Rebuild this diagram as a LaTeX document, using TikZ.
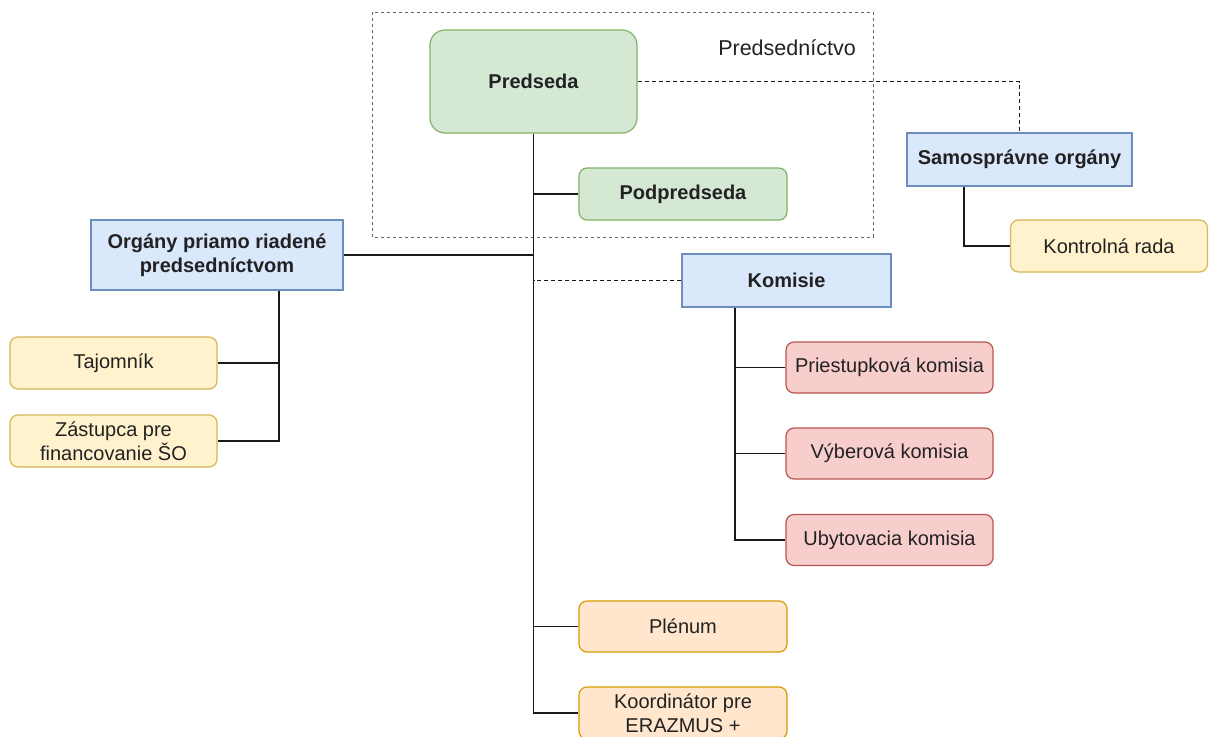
\documentclass[tikz,border=0pt]{standalone}
\usepackage{fontspec}
\setmainfont{Liberation Sans}
\definecolor{gfill}{HTML}{D5E8D4}\definecolor{gline}{HTML}{82B366}
\definecolor{bfill}{HTML}{DAE8FC}\definecolor{bline}{HTML}{6C8EBF}
\definecolor{yfill}{HTML}{FFF2CC}\definecolor{yline}{HTML}{D6B656}
\definecolor{rfill}{HTML}{F8CECC}\definecolor{rline}{HTML}{B85450}
\definecolor{ofill}{HTML}{FFE6CC}\definecolor{oline}{HTML}{D79B00}
\definecolor{txt}{HTML}{222222}
\begin{document}
\begin{tikzpicture}[x=1pt,y=-1pt,
  box/.style={draw, line width=1.2pt, align=center, text=txt, inner sep=2pt,
    font=\fontsize{20}{23.5}\selectfont},
  bbox/.style={box, font=\fontsize{20}{23.5}\selectfont\bfseries},
  green/.style={fill=gfill, draw=gline, rounded corners=8pt},
  blue/.style={fill=bfill, draw=bline},
  yellow/.style={fill=yfill, draw=yline, rounded corners=8pt},
  red/.style={fill=rfill, draw=rline, rounded corners=8pt},
  orange/.style={fill=ofill, draw=oline, rounded corners=8pt},
  conn/.style={draw=black!90, line width=1.5pt},
  dconn/.style={conn, line width=1.3pt, dash pattern=on 4pt off 3pt},
  sz/.style 2 args={minimum width=#1pt, minimum height=#2pt}
]
\useasboundingbox (0,0) rectangle (1209,736);
\fill[white] (0,0) rectangle (1209,736);

% frame
\draw[draw=black!60, line width=1pt, dash pattern=on 3pt off 3pt] (372,12) rectangle (873,237);
\node[text=txt, font=\fontsize{21.5}{24}\selectfont] (frlabel) at (787,48) {Predsedníctvo};

% nodes
\node[bbox, green, rounded corners=15pt, sz={207}{103}] (pred) at (533.5,81.5) {Predseda};
\node[bbox, green, sz={208}{52}] (podp) at (683,194) {Podpredseda};
\node[bbox, blue, sz={225}{53}] (samo) at (1019.5,159.5) {Samosprávne orgány};
\node[box, yellow, sz={197}{52}] (kontr) at (1109,246) {Kontrolná rada};
\node[bbox, blue, sz={252}{70}] (org) at (217,255) {Orgány priamo riadené\\predsedníctvom};
\node[box, yellow, sz={207}{52}] (taj) at (113.5,363) {Tajomník};
\node[box, yellow, sz={207}{52}] (zas) at (113.5,441) {Zástupca pre\\financovanie ŠO};
\node[bbox, blue, sz={209}{53}] (kom) at (786.5,280.5) {Komisie};
\node[box, red, sz={207}{51}] (pri) at (889.5,367.5) {Priestupková komisia};
\node[box, red, sz={207}{51}] (vyb) at (889.5,453.5) {Výberová komisia};
\node[box, red, sz={207}{51}] (uby) at (889.5,540) {Ubytovacia komisia};
\node[box, orange, sz={208}{51}] (plen) at (683,626.5) {Plénum};
\node[box, orange, sz={208}{52}] (koor) at (683,713) {Koordinátor pre\\ERAZMUS +};

% connectors
\draw[conn] (pred.south) |- (koor.west);
\draw[conn] (podp.west) -- (pred.south |- podp.west);
\draw[conn] (org.east) -- (pred.south |- org.east);
\draw[dconn] (kom.west) -- (pred.south |- kom.west);
\draw[conn] (plen.west) -- (pred.south |- plen.west);
\draw[dconn] (pred.east) -| (samo.north);
\coordinate (sb) at ([xshift=-55.5pt]samo.south);
\draw[conn] (sb) |- (kontr.west);
\coordinate (ob) at ([xshift=62pt]org.south);
\draw[conn] (ob) |- (zas.east);
\draw[conn] (taj.east) -- (taj.east -| ob);
\coordinate (kb) at ([xshift=-51.5pt]kom.south);
\draw[conn] (kb) |- (uby.west);
\draw[conn] (pri.west) -- (pri.west -| kb);
\draw[conn] (vyb.west) -- (vyb.west -| kb);
\end{tikzpicture}
\end{document}
